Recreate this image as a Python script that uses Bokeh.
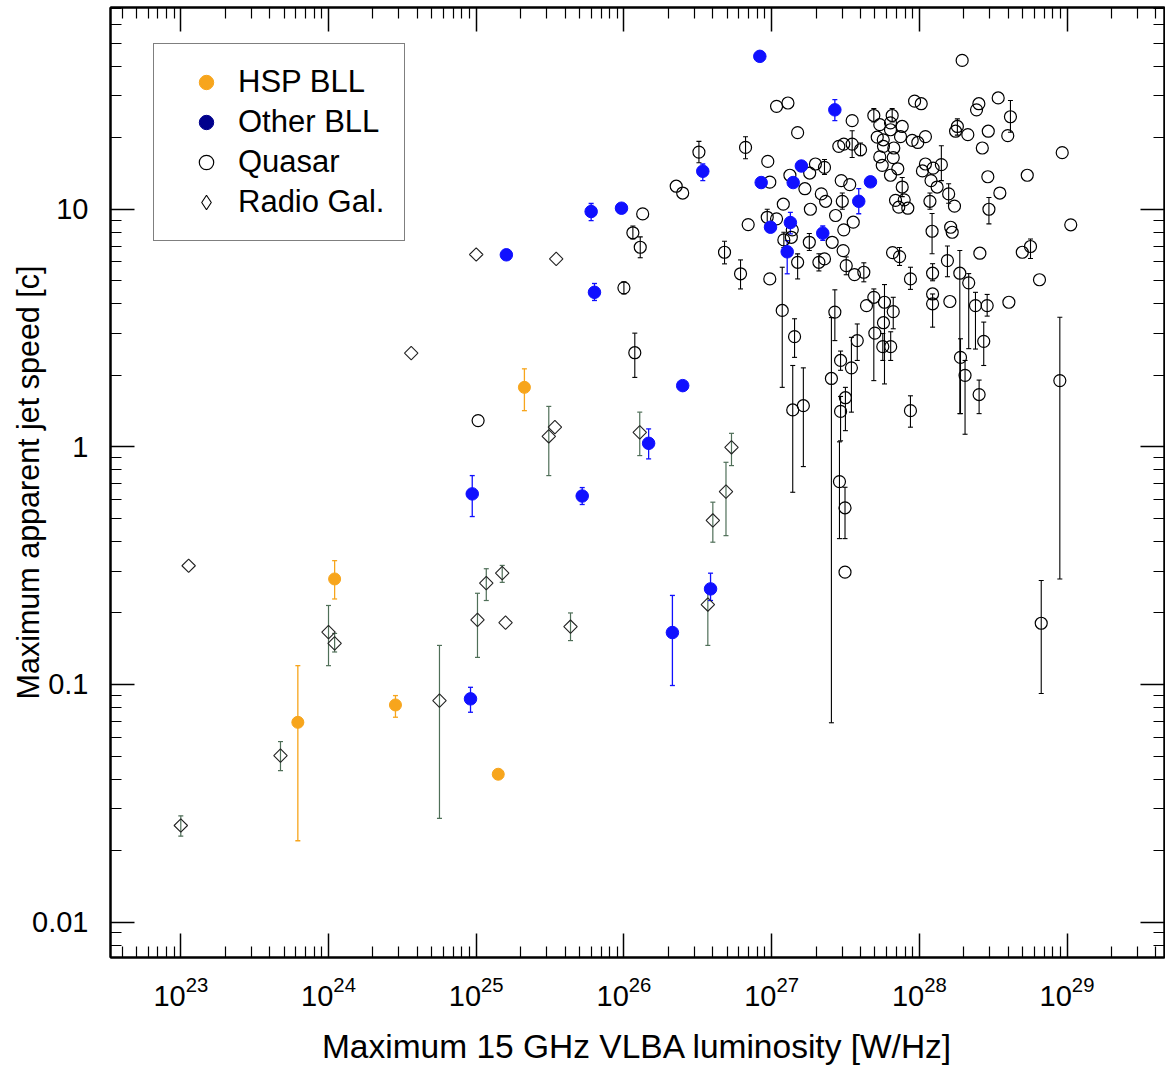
import numpy as np
from bokeh.plotting import figure
from bokeh.models import (Range1d, LogAxis, FixedTicker, CustomJSTickFormatter, ColumnDataSource,
                          Whisker, TeeHead, Legend, LegendItem)
from bokeh.embed import file_html
from bokeh.resources import INLINE

# ---------------- data ----------------
# Quasars: max 15 GHz VLBA luminosity [W/Hz], max apparent speed [c], error range
q_L = [
    1.03e25, 1.185e26, 1.0e26, 1.34e26, 1.15e26, 1.29e26, 2.26e26, 2.5e26, 3.22e26, 4.80e26,
    6.16e26, 9.42e26, 9.72e26, 6.94e26, 9.72e26, 1.18e27, 1.43e27, 1.39e27, 1.64e27, 2.68e27,
    2.54e27, 2.93e27, 3.47e27, 3.80e27, 3.16e27, 2.93e27, 2.88e27, 3.14e27, 3.14e27, 4.39e27,
    4.92e27, 5.81e27, 6.66e27, 5.72e27, 5.00e27, 5.66e27, 6.40e27, 1.23e28, 1.23e28, 1.23e28,
    1.61e28, 8.71e27, 8.71e27, 1.50e27, 2.09e27, 2.28e27, 3.20e27, 3.64e27, 4.21e27, 1.55e28,
    1.88e28, 2.16e28, 2.57e28, 2.40e28, 2.88e28, 4.04e28, 6.51e28, 2.73e28, 1.90e28, 2.04e28,
    2.54e28, 8.94e28, 6.69e28, 1.95e28, 1.08e27, 1.29e27, 3.51e27, 1.50e27, 6.66e26, 1.98e27,
    2.28e27, 1.81e27, 1.33e27, 1.68e27, 2.17e27, 2.32e27, 2.96e27, 3.38e27, 3.01e27, 1.83e27,
    1.20e27, 9.34e26, 1.08e27, 1.38e27, 1.21e27, 2.71e27, 3.08e27, 3.57e27, 2.57e27, 3.05e27,
    1.80e27, 4.92e27, 6.55e27, 6.38e27, 2.85e27, 3.08e27, 3.51e27, 4.00e27, 1.36e27, 5.40e27,
    7.66e27, 6.38e27, 7.46e27, 5.19e27, 5.70e27, 5.72e27, 6.72e27, 5.40e27, 6.66e27, 5.61e27,
    7.15e27, 6.38e27, 7.66e27, 6.90e27, 7.90e27, 7.26e27, 8.36e27, 6.59e27, 7.35e27, 8.95e27,
    9.77e27, 1.10e28, 9.29e27, 1.03e28, 1.24e28, 1.05e28, 1.41e28, 1.20e28, 1.32e28, 1.18e28,
    1.58e28, 1.73e28, 1.22e28, 1.63e28, 1.67e28, 3.42e28, 2.53e28, 2.44e28, 4.14e28, 1.81e28,
    1.76e28, 2.13e28, 2.93e28, 3.97e28, 2.67e28, 9.28e28, 2.91e28, 5.38e28, 3.51e28, 2.96e28,
    1.06e29, 5.66e28, 4.98e28, 1.10e28]
q_v = [
    1.29, 2.49, 4.67, 9.56, 7.96, 6.92, 12.5, 11.7, 17.4, 6.59,
    5.35, 15.9, 13.0, 8.62, 5.09, 3.75, 2.91, 1.43, 1.49, 3.69,
    1.94, 2.31, 2.15, 2.80, 1.61, 1.41, 0.714, 0.554, 0.297, 3.93,
    4.26, 4.06, 3.71, 3.33, 3.01, 2.64, 2.64, 5.38, 4.40, 4.00,
    4.09, 1.42, 5.09, 5.98, 5.98, 6.18, 5.79, 5.31, 5.43, 6.08,
    5.38, 4.90, 6.53, 3.93, 3.93, 4.06, 5.05, 2.78, 2.38, 2.00,
    1.66, 1.90, 0.181, 42.3, 27.1, 28.0, 23.6, 21.0, 18.2, 15.5,
    15.0, 14.2, 13.9, 12.2, 11.6, 10.8, 13.2, 12.7, 10.8, 10.0,
    10.5, 9.25, 9.11, 8.19, 7.43, 9.41, 8.19, 8.82, 7.26, 6.70,
    7.26, 24.8, 24.8, 23.1, 18.4, 18.8, 18.8, 17.8, 7.62, 22.7,
    22.3, 21.6, 20.2, 20.1, 19.6, 18.4, 18.1, 16.6, 16.5, 15.3,
    14.8, 13.9, 12.4, 10.9, 10.95, 10.2, 10.1, 6.57, 6.32, 19.5,
    19.1, 20.2, 28.5, 27.8, 14.9, 14.5, 15.4, 13.2, 12.4, 10.8,
    11.6, 10.3, 8.08, 8.40, 8.00, 29.4, 27.8, 26.2, 24.5, 22.3,
    21.3, 20.6, 21.3, 20.4, 18.1, 17.3, 13.7, 13.9, 11.7, 10.0,
    8.60, 6.97, 6.59, 15.5]
q_lo = [
    1.29, 1.96, 4.40, 9.56, 7.50, 6.25, 12.5, 11.7, 15.7, 5.89,
    4.62, 15.9, 13.0, 8.62, 5.09, 1.78, 2.38, 0.644, 0.826, 2.80,
    0.069, 2.10, 1.40, 2.31, 1.17, 1.06, 0.411, 0.411, 0.297, 3.93,
    1.90, 1.84, 3.14, 3.33, 3.01, 2.31, 2.31, 5.00, 4.40, 3.19,
    4.09, 1.21, 4.60, 5.09, 5.50, 6.18, 5.30, 5.31, 4.95, 5.20,
    1.38, 2.59, 6.53, 2.58, 3.55, 4.06, 5.05, 2.20, 1.38, 1.13,
    1.38, 0.278, 0.0916, 42.3, 27.1, 28.0, 23.6, 21.0, 16.3, 15.5,
    14.0, 14.2, 13.9, 12.2, 11.6, 10.8, 13.2, 12.7, 10.0, 10.0,
    10.5, 8.60, 9.11, 8.19, 6.90, 9.41, 8.19, 8.82, 7.26, 6.70,
    6.70, 23.3, 23.3, 23.1, 18.4, 18.8, 16.5, 16.8, 7.62, 22.7,
    22.3, 21.6, 20.2, 20.1, 19.6, 18.4, 18.1, 16.6, 16.5, 15.3,
    14.8, 13.9, 11.3, 10.9, 10.95, 10.2, 10.1, 6.57, 5.80, 19.5,
    19.1, 20.2, 28.5, 27.8, 14.9, 14.5, 13.2, 13.2, 12.4, 10.0,
    10.6, 10.3, 6.50, 8.40, 8.00, 29.4, 27.8, 26.2, 21.1, 20.5,
    21.3, 20.6, 21.3, 20.4, 18.1, 17.3, 13.7, 13.9, 11.7, 8.68,
    8.60, 6.20, 6.59, 15.5]
q_hi = [
    1.29, 3.01, 4.95, 9.56, 8.50, 7.65, 12.5, 11.7, 19.3, 7.33,
    6.12, 15.9, 13.0, 8.62, 5.09, 5.70, 3.46, 2.20, 2.15, 4.58,
    3.50, 2.53, 2.89, 3.29, 1.78, 1.63, 1.05, 0.676, 0.297, 3.93,
    4.62, 4.82, 4.26, 3.33, 3.01, 3.00, 3.05, 5.90, 4.40, 4.40,
    4.09, 1.64, 5.70, 6.49, 6.50, 6.18, 6.30, 5.31, 5.95, 7.00,
    6.70, 5.36, 6.53, 4.47, 4.38, 4.06, 5.05, 3.35, 2.85, 2.31,
    1.91, 3.51, 0.274, 42.3, 27.1, 28.0, 23.6, 21.0, 20.2, 15.5,
    16.2, 14.2, 13.9, 12.2, 11.6, 10.8, 13.2, 12.7, 11.7, 10.0,
    10.5, 10.0, 9.11, 8.19, 8.00, 9.41, 8.19, 8.82, 7.26, 6.70,
    7.90, 26.5, 26.5, 23.1, 18.4, 18.8, 21.4, 19.0, 7.62, 22.7,
    22.3, 21.6, 20.2, 20.1, 19.6, 18.4, 18.1, 16.6, 16.5, 15.3,
    14.8, 13.9, 13.6, 10.9, 10.95, 10.2, 10.1, 6.57, 6.90, 19.5,
    19.1, 20.2, 28.5, 27.8, 14.9, 14.5, 18.5, 13.2, 12.4, 11.7,
    12.8, 10.3, 9.60, 8.40, 8.00, 29.4, 27.8, 26.2, 28.7, 24.0,
    21.3, 20.6, 21.3, 20.4, 18.1, 17.3, 13.7, 13.9, 11.7, 11.2,
    8.60, 7.50, 6.59, 15.5]

# Radio galaxies
rg_L = [1.0e23, 1.13e23, 4.73e23, 1.0e24, 1.10e24, 5.64e24, 3.63e24, 1.02e25, 1.17e25, 1.50e25,
        1.58e25, 3.10e25, 3.41e25, 1.28e26, 5.35e26, 4.91e26, 4.0e26, 3.70e26, 1.0e25, 3.48e25,
        4.35e25]
rg_v = [0.0255, 0.316, 0.0502, 0.166, 0.149, 0.0855, 2.48, 0.187, 0.267, 0.294,
        0.182, 1.108, 1.21, 1.15, 0.996, 0.648, 0.49, 0.217, 6.45, 6.18,
        0.175]
rg_lo = [0.023, 0.316, 0.0434, 0.120, 0.137, 0.0273, 2.48, 0.130, 0.2256, 0.269,
         0.182, 0.757, 1.21, 0.919, 0.834, 0.423, 0.397, 0.146, 6.45, 6.18,
         0.153]
rg_hi = [0.028, 0.316, 0.0575, 0.215, 0.164, 0.146, 2.48, 0.242, 0.307, 0.317,
         0.182, 1.48, 1.21, 1.40, 1.14, 0.861, 0.585, 0.248, 6.45, 6.18,
         0.200]

# HSP BL Lacs
hsp_L = [2.12e25, 1.10e24, 6.2e23, 2.84e24, 1.41e25]
hsp_v = [1.78, 0.278, 0.0693, 0.082, 0.0419]
hsp_lo = [1.42, 0.229, 0.022, 0.0728, 0.0419]
hsp_hi = [2.13, 0.332, 0.120, 0.0898, 0.0419]

# Other BL Lacs
bll_L = [9.4e24, 9.15e24, 1.60e25, 6.0e25, 9.63e25, 6.32e25, 3.42e26, 2.5e26, 1.47e26, 5.22e25,
         3.86e26, 2.13e26, 8.32e26, 2.68e27, 1.59e27, 8.5e26, 1.40e27, 4.67e27, 3.89e27, 9.83e26,
         1.34e27, 2.22e27, 1.275e27]
bll_v = [0.634, 0.087, 6.43, 9.78, 10.1, 4.47, 14.45, 1.81, 1.035, 0.621,
         0.2525, 0.1654, 44.0, 26.2, 15.2, 12.95, 12.95, 13.04, 10.8, 8.40,
         8.79, 7.93, 6.62]
bll_lo = [0.509, 0.0764, 6.43, 8.96, 10.1, 4.13, 13.2, 1.81, 0.89, 0.572,
          0.2256, 0.099, 44.0, 23.6, 15.2, 12.95, 12.95, 13.04, 9.57, 8.40,
          7.88, 7.40, 5.35]
bll_hi = [0.757, 0.0973, 6.43, 10.57, 10.1, 4.87, 15.5, 1.81, 1.19, 0.674,
          0.294, 0.237, 44.0, 28.9, 15.2, 12.95, 12.95, 13.04, 12.2, 8.40,
          9.71, 8.50, 7.38]

legend_labels = ["HSP BLL", "Other BLL", "Quasar", "Radio Gal."]
x_title = "Maximum 15 GHz VLBA luminosity [W/Hz]"
y_title = "Maximum apparent jet speed [c]"

# ---------------- figure ----------------
FONT = "Liberation Sans"
p = figure(width=1165, height=1070, x_axis_type="log", y_axis_type="log",
           x_range=Range1d(10 ** 22.524, 10 ** 29.66),
           y_range=Range1d(10 ** -2.149, 10 ** 1.849),
           output_backend="svg", toolbar_location=None,
           min_border_left=110, min_border_right=1, min_border_top=7, min_border_bottom=113,
           background_fill_color="white", border_fill_color="white")
p.grid.visible = False
p.outline_line_color = "black"
p.outline_line_width = 2

x_major = [10.0 ** k for k in range(23, 30)]
x_minor = [m * 10.0 ** k for k in range(22, 30) for m in range(2, 10)]
y_major = [0.01, 0.1, 1.0, 10.0]
y_minor = [m * 10.0 ** k for k in range(-3, 2) for m in range(2, 10)]


def style_axis(ax):
    ax.axis_line_width = 2
    ax.axis_line_color = "black"
    ax.major_tick_in = 24
    ax.major_tick_out = 0
    ax.minor_tick_in = 11
    ax.minor_tick_out = 0
    ax.major_tick_line_width = 1.5
    ax.minor_tick_line_width = 1.2
    ax.major_tick_line_color = "black"
    ax.minor_tick_line_color = "black"
    ax.major_label_text_font = FONT
    ax.major_label_text_color = "black"
    ax.axis_label_text_font = FONT
    ax.axis_label_text_font_style = "normal"
    ax.axis_label_text_color = "black"


xa = p.xaxis[0]
xa.ticker = FixedTicker(ticks=x_major, minor_ticks=x_minor)
style_axis(xa)
xa.major_label_text_font_size = "29px"
xa.major_label_standoff = 18
xa.axis_label = x_title
xa.axis_label_text_font_size = "33.5px"
xa.axis_label_standoff = 19

ya = p.yaxis[0]
ya.ticker = FixedTicker(ticks=y_major, minor_ticks=y_minor)
ya.formatter = CustomJSTickFormatter(code="return String(tick);")
style_axis(ya)
ya.major_label_text_font_size = "29px"
ya.major_label_standoff = 22
ya.axis_label = y_title
ya.axis_label_text_font_size = "30.5px"
ya.axis_label_standoff = -16

blank = CustomJSTickFormatter(code="return '';")
top = LogAxis(ticker=FixedTicker(ticks=x_major, minor_ticks=x_minor), formatter=blank,
              major_label_standoff=0)
right = LogAxis(ticker=FixedTicker(ticks=y_major, minor_ticks=y_minor), formatter=blank,
                major_label_standoff=0)
style_axis(top)
style_axis(right)
top.major_label_text_font_size = "0px"
right.major_label_text_font_size = "0px"
p.add_layout(top, "above")
p.add_layout(right, "right")


def add_err(L, v, lo, hi, color, width):
    idx = [i for i in range(len(L)) if hi[i] > lo[i]]
    src = ColumnDataSource(dict(x=[L[i] for i in idx], lo=[lo[i] for i in idx],
                                hi=[hi[i] for i in idx]))
    w = Whisker(source=src, base="x", lower="lo", upper="hi", dimension="height",
                line_color=color, line_width=width,
                upper_head=TeeHead(size=5, line_color=color, line_width=width),
                lower_head=TeeHead(size=5, line_color=color, line_width=width))
    p.add_layout(w)


ORANGE = "#F7A51C"
BLUE = "#1010FF"
RGERR = "#4f6f58"

add_err(q_L, q_v, q_lo, q_hi, "black", 1.1)
add_err(rg_L, rg_v, rg_lo, rg_hi, RGERR, 1.2)
add_err(hsp_L, hsp_v, hsp_lo, hsp_hi, ORANGE, 1.3)
add_err(bll_L, bll_v, bll_lo, bll_hi, BLUE, 1.3)

p.scatter(q_L, q_v, marker="circle", size=12, fill_color=None, line_color="black", line_width=1.2)
p.scatter(rg_L, rg_v, marker="square", angle=np.pi / 4, size=9.5, fill_color=None,
          line_color="#222222", line_width=1.1)
p.scatter(hsp_L, hsp_v, marker="circle", size=12, fill_color=ORANGE, line_color=ORANGE)
p.scatter(bll_L, bll_v, marker="circle", size=12.5, fill_color=BLUE, line_color=BLUE)

# hidden proxy renderers that carry the legend styles
l1 = p.scatter(hsp_L, hsp_v, marker="circle", fill_color=ORANGE, line_color=ORANGE, visible=False)
l2 = p.scatter(bll_L, bll_v, marker="circle", fill_color="#00008C", line_color="#00008C",
               visible=False)
l3 = p.scatter(q_L, q_v, marker="circle", fill_color=None, line_color="black", line_width=1.2,
               visible=False)
l4 = p.scatter(rg_L, rg_v, marker="diamond", fill_color=None, line_color="black",
               line_width=1.1, visible=False)

legend = Legend(items=[LegendItem(label=legend_labels[0], renderers=[l1]),
                       LegendItem(label=legend_labels[1], renderers=[l2]),
                       LegendItem(label=legend_labels[2], renderers=[l3]),
                       LegendItem(label=legend_labels[3], renderers=[l4])],
                location=(43, 716), orientation="vertical",
                label_text_font=FONT, label_text_font_size="31px", label_text_color="black",
                glyph_width=64, glyph_height=36, label_height=36, label_standoff=0,
                padding=20, spacing=4, margin=0,
                inactive_fill_alpha=0.0,
                border_line_color="black", border_line_width=1.5,
                background_fill_color="white", background_fill_alpha=1.0)
p.add_layout(legend)

open("out.html", "w").write(file_html(p, INLINE))
